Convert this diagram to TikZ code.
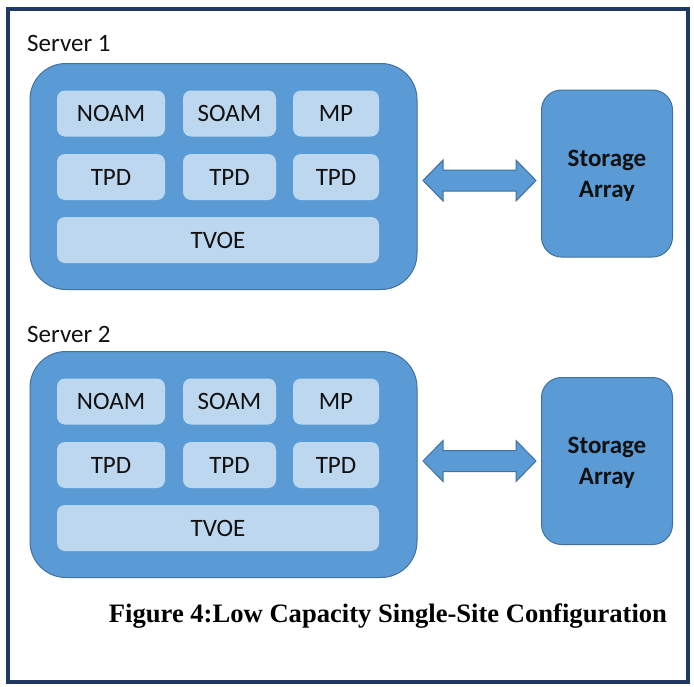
\documentclass[tikz,border=0pt]{standalone}
\usepackage{fontspec}
\setmainfont{Carlito}
\newfontfamily\capfont{Liberation Serif}
\usetikzlibrary{calc}
\definecolor{srvblue}{HTML}{5B9BD5}
\definecolor{srvedge}{HTML}{41719C}
\definecolor{paleblue}{HTML}{BDD7EE}
\definecolor{framenavy}{HTML}{203864}
\definecolor{txt}{HTML}{111111}
\tikzset{
  server/.style={draw=srvedge, line width=1pt, fill=srvblue, rounded corners=36pt, inner sep=0pt, minimum width=387pt, minimum height=226pt},
  vmbox/.style={fill=paleblue, rounded corners=8pt, inner sep=0pt, minimum height=46pt, text=txt, font=\fontsize{25}{28}\selectfont},
  storebox/.style={draw=srvedge, line width=1pt, fill=srvblue, rounded corners=20pt, inner sep=0pt, minimum width=131pt, minimum height=167pt, align=center, text=txt, font=\fontsize{25}{31}\selectfont\bfseries},
  lbl/.style={anchor=base west, inner sep=0pt, text=txt, font=\fontsize{25}{28}\selectfont},
  dblarrow/.style={draw=srvedge, line width=1pt, fill=srvblue, line join=miter}
}
\begin{document}
\begin{tikzpicture}[x=1pt,y=-1pt]
\useasboundingbox (0,0) rectangle (694,686);
\fill[white] (0,0) rectangle (694,686);
\draw[framenavy, line width=4pt] (8,9) rectangle (688,682);

% Server 1
\node[lbl] (s1lbl) at (27,51) {Server 1};
\node[server] (srv1) at (223.5,176.5) {};
\node[vmbox, minimum width=108pt] (noam1) at (111,113.5) {NOAM};
\node[vmbox, minimum width=93pt] (soam1) at (229.5,113.5) {SOAM};
\node[vmbox, minimum width=86pt] (mp1) at (336,113.5) {MP};
\node[vmbox, minimum width=108pt] (tpda1) at (111,177) {TPD};
\node[vmbox, minimum width=93pt] (tpdb1) at (229.5,177) {TPD};
\node[vmbox, minimum width=86pt] (tpdc1) at (336,177) {TPD};
\node[vmbox, minimum width=322pt] (tvoe1) at (218,240) {TVOE};
\node[storebox] (sto1) at (607,173.5) {};
\node[storebox, draw=none, fill=none, minimum width=0pt, minimum height=0pt] (sto1t) at (607,175.5) {Storage\\Array};
\draw[dblarrow]
  (423,180.5) -- (443,160) -- (443,170) -- (516,170) -- (516,160) -- (536,180.5)
  -- (516,201) -- (516,191) -- (443,191) -- (443,201) -- cycle;

% Server 2
\node[lbl] (s2lbl) at (27,342) {Server 2};
\node[server] (srv2) at (223.5,464.5) {};
\node[vmbox, minimum width=108pt] (noam2) at (111,401.5) {NOAM};
\node[vmbox, minimum width=93pt] (soam2) at (229.5,401.5) {SOAM};
\node[vmbox, minimum width=86pt] (mp2) at (336,401.5) {MP};
\node[vmbox, minimum width=108pt] (tpda2) at (111,465) {TPD};
\node[vmbox, minimum width=93pt] (tpdb2) at (229.5,465) {TPD};
\node[vmbox, minimum width=86pt] (tpdc2) at (336,465) {TPD};
\node[vmbox, minimum width=322pt] (tvoe2) at (218,528) {TVOE};
\node[storebox] (sto2) at (607,461) {};
\node[storebox, draw=none, fill=none, minimum width=0pt, minimum height=0pt] (sto2t) at (607,463) {Storage\\Array};
\draw[dblarrow]
  (423,461) -- (443,440.5) -- (443,450.5) -- (516,450.5) -- (516,440.5) -- (536,461)
  -- (516,481.5) -- (516,471.5) -- (443,471.5) -- (443,481.5) -- cycle;

% Caption
\node[inner sep=0pt, font=\capfont\bfseries\fontsize{26.6}{30}\selectfont] (cap) at (388,616) {Figure 4:Low Capacity Single-Site Configuration};
\end{tikzpicture}
\end{document}
